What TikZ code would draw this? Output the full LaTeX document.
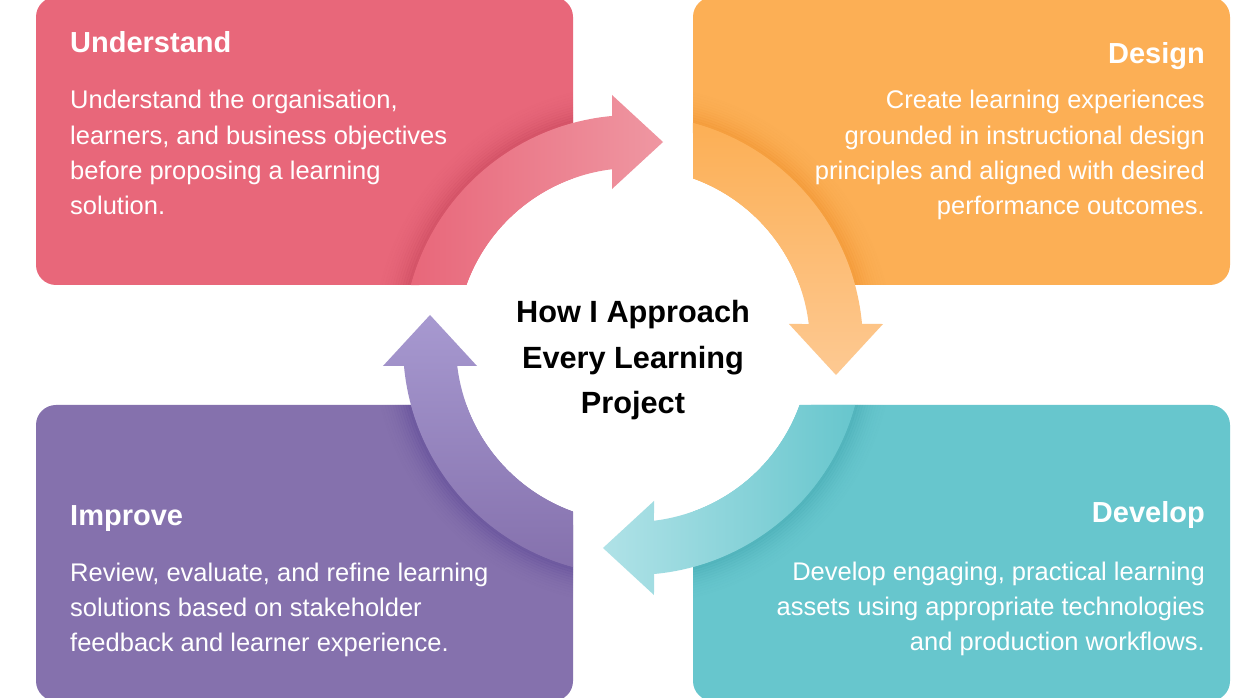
\documentclass[tikz,border=0pt]{standalone}
\usepackage{fontspec}
\setmainfont{Liberation Sans}
\usetikzlibrary{calc}
\definecolor{pinkbox}{HTML}{E8677A}
\definecolor{pinklight}{HTML}{EF97A2}
\definecolor{pinkshade}{HTML}{C8475C}
\definecolor{orangebox}{HTML}{FCAF55}
\definecolor{orangelight}{HTML}{FDC992}
\definecolor{orangeshade}{HTML}{F0922E}
\definecolor{tealbox}{HTML}{67C6CD}
\definecolor{teallight}{HTML}{B0E2E7}
\definecolor{tealshade}{HTML}{44A8B1}
\definecolor{purplebox}{HTML}{8571AD}
\definecolor{purplelight}{HTML}{A799D0}
\definecolor{purpleshade}{HTML}{5E4997}
\newcommand\ringarrow[1]{($(C)+({#1+164.88}:230)$) arc[start angle={#1+164.88}, end angle={#1+95.24}, radius=230]
 -- ($(C)+({#1+94.80}:250.9)$) -- ($(C)+({#1+81.59}:205.2)$) -- ($(C)+({#1+97.67}:157.4)$)
 -- ($(C)+({#1+96.81}:177)$) arc[start angle={#1+96.81}, end angle={#1+160.18}, radius=177] -- cycle}
\newcommand\ringshadow[3]{%
  \begin{scope}
    \clip[rounded corners=20pt] #3;
    \foreach \i in {0,...,11}{%
      \pgfmathsetmacro\op{0.55*(1-\i/12)^2}%
      \pgfmathsetmacro\rr{231.3+2.5*\i}%
      \draw[#2, line width=2.7pt, opacity=\op] ($(C)+({#1+88}:\rr)$) arc[start angle={#1+88}, end angle={#1+172}, radius=\rr];
    }
  \end{scope}}
\tikzset{
  heading/.style={font=\fontsize{29}{35}\selectfont\bfseries, text=white, inner sep=0pt},
  body/.style={font=\fontsize{25.5}{35.4}\selectfont, text=white, inner sep=0pt},
  title/.style={font=\fontsize{30.7}{45.5}\selectfont\bfseries, text=black, inner sep=0pt, align=center}
}
\begin{document}
\begin{tikzpicture}[x=1pt,y=1pt]
\useasboundingbox (0,0) rectangle (1240,698);
\fill[white] (0,0) rectangle (1240,698);
\coordinate (C) at (633,353);
% boxes
\fill[pinkbox, rounded corners=20pt] (36,413) rectangle (573,701);
\fill[orangebox, rounded corners=20pt] (693,413) rectangle (1230,701);
\fill[purplebox, rounded corners=20pt] (36,-3) rectangle (573,293);
\fill[tealbox, rounded corners=20pt] (693,-3) rectangle (1230,293);
% shadows
\ringshadow{0}{pinkshade}{(36,413) rectangle (573,701)}
\ringshadow{-90}{orangeshade}{(693,413) rectangle (1230,701)}
\ringshadow{-180}{tealshade}{(693,-3) rectangle (1230,293)}
\ringshadow{90}{purpleshade}{(36,-3) rectangle (573,293)}
% white centre
\fill[white] (C) circle[radius=177];
% arrows
\shade[left color=pinkbox, right color=pinklight] \ringarrow{0};
\shade[top color=orangebox, bottom color=orangelight] \ringarrow{-90};
\shade[right color=tealbox, left color=teallight] \ringarrow{-180};
\shade[bottom color=purplebox, top color=purplelight] \ringarrow{90};
% texts (base anchor = baseline of last line)
\node[heading, anchor=base west] (uh) at (70,645) {Understand};
\node[body, anchor=base west, align=left] (ub) at (70,483) {Understand the organisation,\\learners, and business objectives\\before proposing a learning\\solution.};
\node[heading, anchor=base east] (dh) at (1205,634) {Design};
\node[body, anchor=base east, align=right] (db) at (1205,483) {Create learning experiences\\grounded in instructional design\\principles and aligned with desired\\performance outcomes.};
\node[heading, anchor=base west] (ih) at (70,172) {Improve};
\node[body, anchor=base west, align=left] (ib) at (70,46) {Review, evaluate, and refine learning\\solutions based on stakeholder\\feedback and learner experience.};
\node[heading, anchor=base east] (vh) at (1205,175) {Develop};
\node[body, anchor=base east, align=right] (vb) at (1205,47) {Develop engaging, practical learning\\assets using appropriate technologies\\and production workflows.};
\node[title, anchor=base] (t) at (633,284) {How I Approach\\Every Learning\\Project};
\end{tikzpicture}
\end{document}
